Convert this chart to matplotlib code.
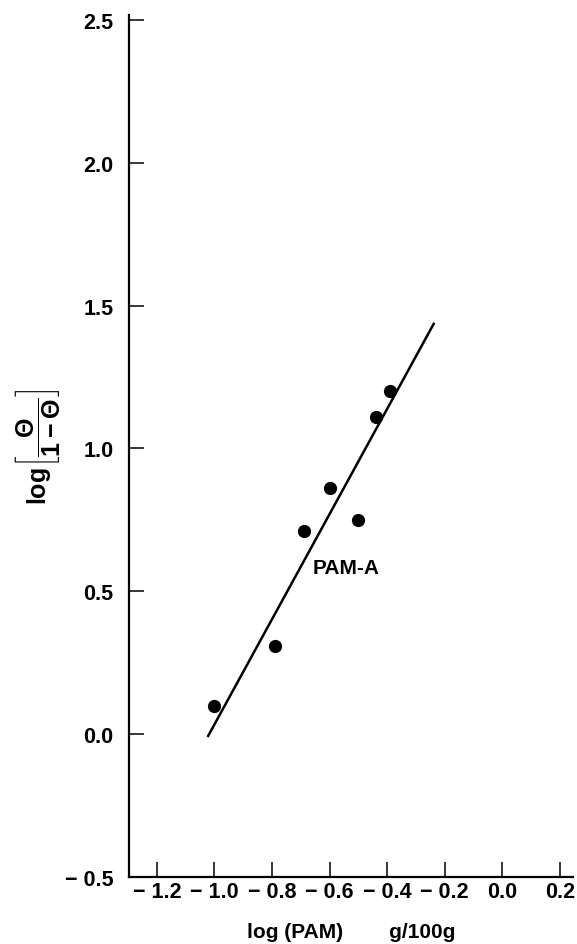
import numpy as np
import matplotlib
matplotlib.use("Agg")
import matplotlib.pyplot as plt

plt.rcParams['font.family'] = ['Liberation Sans', 'DejaVu Sans']
plt.rcParams['mathtext.fontset'] = 'custom'
plt.rcParams['mathtext.rm'] = 'Liberation Sans:bold'
plt.rcParams['mathtext.bf'] = 'Liberation Sans:bold'
plt.rcParams['mathtext.it'] = 'Liberation Sans:bold'

# data
log_pam = [-1.00, -0.79, -0.69, -0.60, -0.50, -0.44, -0.39]
log_theta = [0.10, 0.31, 0.71, 0.86, 0.75, 1.11, 1.20]

# fitted line end points
fit_x = [-1.024, -0.236]
fit_y = [-0.010, 1.440]

x_ticks = [-1.2, -1.0, -0.8, -0.6, -0.4, -0.2, 0.0, 0.2]
y_ticks = [-0.5, 0.0, 0.5, 1.0, 1.5, 2.0, 2.5]


def _fmt(v):
    s = f"{abs(v):.1f}"
    return f"\u2212 {s}" if v < 0 else s


fig = plt.figure(figsize=(5.77, 9.45), dpi=100)
ax = fig.add_axes([0.2236, 0.0709, 0.993 - 0.2236, 0.983 - 0.0709])

ax.plot(fit_x, fit_y, color="black", lw=1.8, solid_capstyle="butt")
ax.plot(log_pam, log_theta, "o", color="black", ms=8.5)

ax.text(-0.66, 0.583, "PAM-A", fontsize=15, fontweight="bold", va="center", ha="left")

ax.set_xlim(-1.297, 0.246)
ax.set_ylim(-0.5, 2.517)

ax.set_xticks(x_ticks)
ax.set_xticklabels([_fmt(v) for v in x_ticks])
ax.set_yticks(y_ticks)
ax.set_yticklabels([_fmt(v) for v in y_ticks])

ax.spines["top"].set_visible(False)
ax.spines["right"].set_visible(False)
for sp in ("left", "bottom"):
    ax.spines[sp].set_linewidth(1.6)

ax.tick_params(axis="both", direction="in", length=11, width=1.1,
               labelsize=15.5)
ax.tick_params(axis="y", pad=11)
ax.tick_params(axis="x", pad=3)
for lbl in ax.get_xticklabels() + ax.get_yticklabels():
    lbl.set_fontweight("bold")

ax.set_xlabel("log (PAM)        g/100g", fontsize=15, fontweight="bold", labelpad=14)
ax.set_ylabel(r"$\mathrm{log}\left[\dfrac{\Theta}{1-\Theta}\right]$", fontsize=18, labelpad=2)

fig.savefig("out.png", dpi=100)
